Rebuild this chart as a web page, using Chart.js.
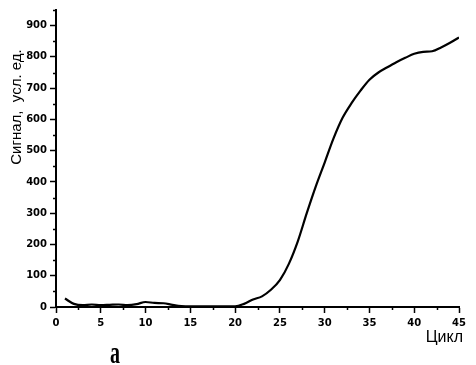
<!DOCTYPE html>
<html>
<head>
<meta charset="utf-8">
<script src="https://cdn.jsdelivr.net/npm/chart.js@4/dist/chart.umd.min.js"></script>
<style>
html,body{margin:0;padding:0;background:#fff;}
#wrap{width:476px;height:365px;position:relative;}
</style>
</head>
<body>
<div id="wrap"><canvas id="c" width="476" height="365"></canvas></div>
<script>
const cycles = [1,2,3,4,5,6,7,8,9,10,11,12,13,14,15,16,17,18,19,20,21,22,23,24,25,26,27,28,29,30,31,32,33,34,35,36,37,38,39,40,41,42,43,44,45];
const signal = [27,10,6,8,6,7,8,6,9,16,13,12,7,3,2,2,2,2,2,2,10,24,34,55,86,138,210,300,385,462,540,605,652,692,727,750,767,783,797,810,816,818,830,845,862];
const yTickValues = [0,100,200,300,400,500,600,700,800,900];
const yMinorValues = [50,150,250,350,450,550,650,750,850,950];
const xTickValues = [0,5,10,15,20,25,30,35,40,45];
const xMinorValues = [2.5,7.5,12.5,17.5,22.5,27.5,32.5,37.5,42.5];
const yTitle = 'Сигнал,  усл. ед.';
const xTitle = 'Цикл';
const panelLabel = 'а';

const points = cycles.map((c, i) => ({x: c, y: signal[i]}));

const extras = {
  id: 'extras',
  afterDraw(chart) {
    const ctx = chart.ctx;
    const xs = chart.scales.x, ys = chart.scales.y;
    const a = chart.chartArea;
    ctx.save();
    ctx.strokeStyle = '#000';
    ctx.lineWidth = 1.5;
    ctx.beginPath();
    yMinorValues.forEach(v => {
      const py = Math.round(ys.getPixelForValue(v)) + 0.5;
      ctx.moveTo(a.left - 3, py); ctx.lineTo(a.left, py);
    });
    xMinorValues.forEach(v => {
      const px = Math.round(xs.getPixelForValue(v)) + 0.5;
      ctx.moveTo(px, a.bottom); ctx.lineTo(px, a.bottom + 3);
    });
    ctx.stroke();

    ctx.fillStyle = '#000';
    // y title
    ctx.save();
    ctx.translate(17, a.top + 97);
    ctx.rotate(-Math.PI / 2);
    ctx.font = '15px "Liberation Sans", Arial, sans-serif';
    ctx.textAlign = 'center';
    ctx.textBaseline = 'middle';
    ctx.fillText(yTitle, 0, 0);
    ctx.restore();
    // x title
    ctx.font = '16px "Liberation Sans", Arial, sans-serif';
    ctx.textAlign = 'right';
    ctx.textBaseline = 'middle';
    ctx.fillText(xTitle, a.right + 4, a.bottom + 31);
    // panel label
    ctx.save();
    ctx.translate(a.left + 59, a.bottom + 56);
    ctx.scale(1, 1.6);
    ctx.font = 'bold 20px "Liberation Serif", "Times New Roman", serif';
    ctx.textAlign = 'center';
    ctx.textBaseline = 'alphabetic';
    ctx.fillText(panelLabel, 0, 0);
    ctx.restore();
    ctx.restore();
  }
};

const tickFont = {family: '"DejaVu Sans", sans-serif', size: 10, weight: 'bold'};

new Chart(document.getElementById('c'), {
  type: 'line',
  data: {
    datasets: [{
      data: points,
      borderColor: '#000',
      borderWidth: 2.2,
      pointRadius: 0,
      fill: false,
      tension: 0.3,
      cubicInterpolationMode: 'monotone'
    }]
  },
  options: {
    responsive: false,
    animation: false,
    devicePixelRatio: 1,
    layout: {padding: {left: 0, right: 17, top: 10, bottom: 0}},
    plugins: {legend: {display: false}, tooltip: {enabled: false}},
    scales: {
      x: {
        type: 'linear',
        min: 0, max: 45,
        afterBuildTicks: s => { s.ticks = xTickValues.map(v => ({value: v})); },
        afterFit: s => { s.height = 58; },
        border: {display: true, color: '#000', width: 2},
        grid: {drawOnChartArea: false, drawTicks: true, tickLength: 6, tickColor: '#000', tickWidth: 1.5},
        ticks: {color: '#000', font: tickFont, padding: 4, maxRotation: 0, autoSkip: false}
      },
      y: {
        type: 'linear',
        min: 0, max: 950,
        afterBuildTicks: s => { s.ticks = yTickValues.map(v => ({value: v})); },
        afterFit: s => { s.width = 56; },
        border: {display: true, color: '#000', width: 2},
        grid: {drawOnChartArea: false, drawTicks: true, tickLength: 6, tickColor: '#000', tickWidth: 1.5},
        ticks: {color: '#000', font: tickFont, padding: 3, autoSkip: false}
      }
    }
  },
  plugins: [extras]
});
</script>
</body>
</html>
